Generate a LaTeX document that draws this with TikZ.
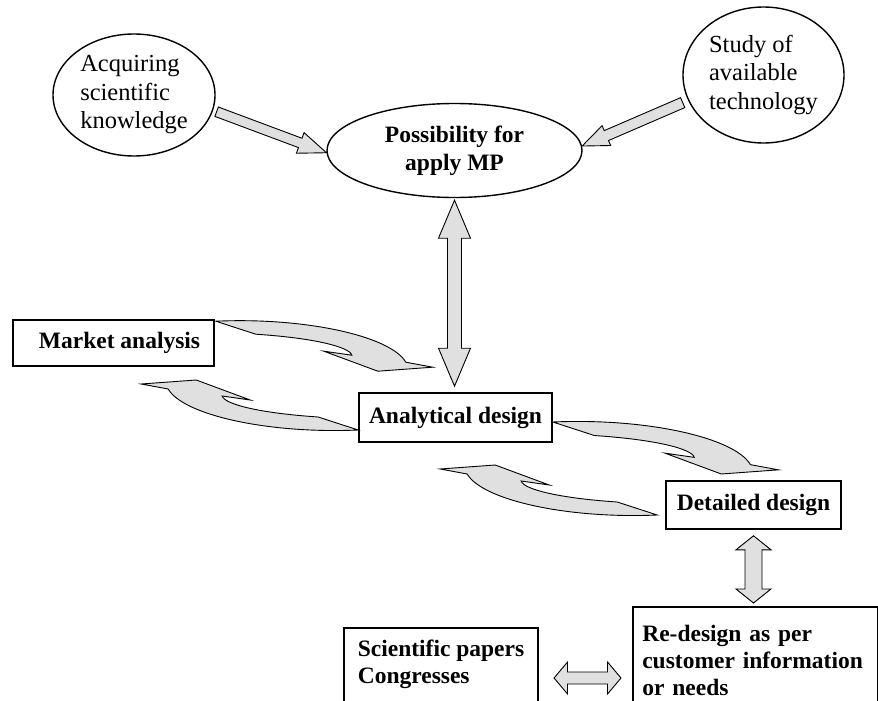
\documentclass[tikz,border=0pt]{standalone}
\usepackage{fontspec}
\setmainfont{Liberation Serif}
\usetikzlibrary{shapes.geometric,calc}
\definecolor{arrowgray}{RGB}{224,224,224}
\tikzset{
  ell/.style={ellipse, draw, line width=1.4pt, inner sep=0pt, align=left,
    font=\fontsize{24.5}{28.5}\selectfont},
  boxnode/.style={rectangle, draw, line width=1.6pt, inner sep=0pt,
    font=\fontsize{23.5}{27}\selectfont\bfseries},
  blockarrow/.style={fill=arrowgray, draw=black, line width=0.9pt, line join=miter},
}
% straight block arrow: from, to, shaft half width, head half width, head length
\newcommand\blockarr[5]{%
  \coordinate (bah) at ($(#2)!#5!(#1)$);
  \filldraw[blockarrow] ($(#1)!#3!90:(#2)$) -- ($(bah)!#3!90:(#2)$) -- ($(bah)!#4!90:(#2)$)
    -- (#2) -- ($(bah)!#4!-90:(#2)$) -- ($(bah)!#3!-90:(#2)$) -- ($(#1)!#3!-90:(#2)$) -- cycle;
}
% double block arrow
\newcommand\dblarr[5]{%
  \coordinate (dha) at ($(#1)!#5!(#2)$);
  \coordinate (dhb) at ($(#2)!#5!(#1)$);
  \filldraw[blockarrow] (#1) -- ($(dha)!#4!90:(#2)$) -- ($(dha)!#3!90:(#2)$)
    -- ($(dhb)!#3!90:(#2)$) -- ($(dhb)!#4!90:(#2)$) -- (#2)
    -- ($(dhb)!#4!-90:(#2)$) -- ($(dhb)!#3!-90:(#2)$)
    -- ($(dha)!#3!-90:(#2)$) -- ($(dha)!#4!-90:(#2)$) -- cycle;
}
% curved block arrow in local coordinates
\newcommand\curvedarr{%
  \filldraw[blockarrow] (0,0) .. controls (90,-4) and (175,15) .. (190,41)
    -- (217,46) -- (162,50) -- (108,30) -- (136,34)
    .. controls (134,26) and (100,17) .. (40,13) -- cycle;
}
\begin{document}
\begin{tikzpicture}[x=1pt,y=-1pt]
\clip (0,0) rectangle (878,701);
\fill[white] (0,0) rectangle (878,701);

% ellipses
\node[ell, minimum width=162, minimum height=122] (acq) at (134,95)
  {Acquiring\\scientific\\knowledge};
\node[ell, minimum width=161, minimum height=136] (study) at (763.5,75)
  {Study of\\available\\technology};
\node[ell, align=center, font=\fontsize{23.5}{28}\selectfont\bfseries,
  minimum width=255, minimum height=94] (poss) at (454.5,150.5)
  {Possibility for\\apply MP};

% boxes
\node[boxnode, minimum width=201, minimum height=46] (market) at (113.5,343)
  {\hspace*{12pt}Market analysis};
\node[boxnode, minimum width=193, minimum height=49] (anal) at (455.5,417.5)
  {Analytical design};
\node[boxnode, minimum width=175, minimum height=48] (detail) at (753.5,505)
  {Detailed design};
\node[boxnode, anchor=north west, align=left, text width=226pt,
  inner xsep=9.5pt, inner ysep=18pt] (redes) at (632,606)
  {Re-design as per\\customer information\\or needs\rule[-60pt]{0pt}{60pt}};
\node[boxnode, anchor=north west, align=left, inner xsep=14pt, inner ysep=12pt]
  (sci) at (343,627)
  {Scientific papers\\Congresses\rule[-60pt]{0pt}{60pt}};

% straight arrows into the central ellipse
\coordinate (s1) at ($(acq.-12)+(4,0)$);
\coordinate (t1) at (poss.181);
\blockarr{s1}{t1}{5pt}{11pt}{28pt}
\coordinate (s2) at ($(study.198)+(-5,3)$);
\coordinate (t2) at (poss.2);
\blockarr{s2}{t2}{5.4pt}{10.8pt}{26.4pt}

% double arrows
\coordinate (v1a) at ($(poss.south)+(0,2)$);
\coordinate (v1b) at ($(v1a |- anal.north)+(0,-6)$);
\dblarr{v1a}{v1b}{7pt}{16pt}{38pt}
\coordinate (v2a) at ($(detail.south)+(0,6)$);
\coordinate (v2b) at ($(v2a |- redes.north)+(0,-3)$);
\dblarr{v2a}{v2b}{8.5pt}{17.5pt}{14pt}
\coordinate (h1) at ($(sci.north east)+(15,51)$);
\coordinate (h2) at ($(h1 -| redes.west)+(-11,0)$);
\dblarr{h1}{h2}{6pt}{16pt}{13.5pt}

% curved arrows
\begin{scope}[shift={($(market.north east)+(1,2)$)}]
  \curvedarr
\end{scope}
\begin{scope}[shift={($(anal.west)+(0,12.5)$)}, rotate=180]
  \curvedarr
\end{scope}
\begin{scope}[shift={($(anal.east)+(0,4.5)$)}, scale=1.04]
  \curvedarr
\end{scope}
\begin{scope}[shift={($(detail.west)+(-8,10)$)}, rotate=180]
  \curvedarr
\end{scope}
\end{tikzpicture}
\end{document}
